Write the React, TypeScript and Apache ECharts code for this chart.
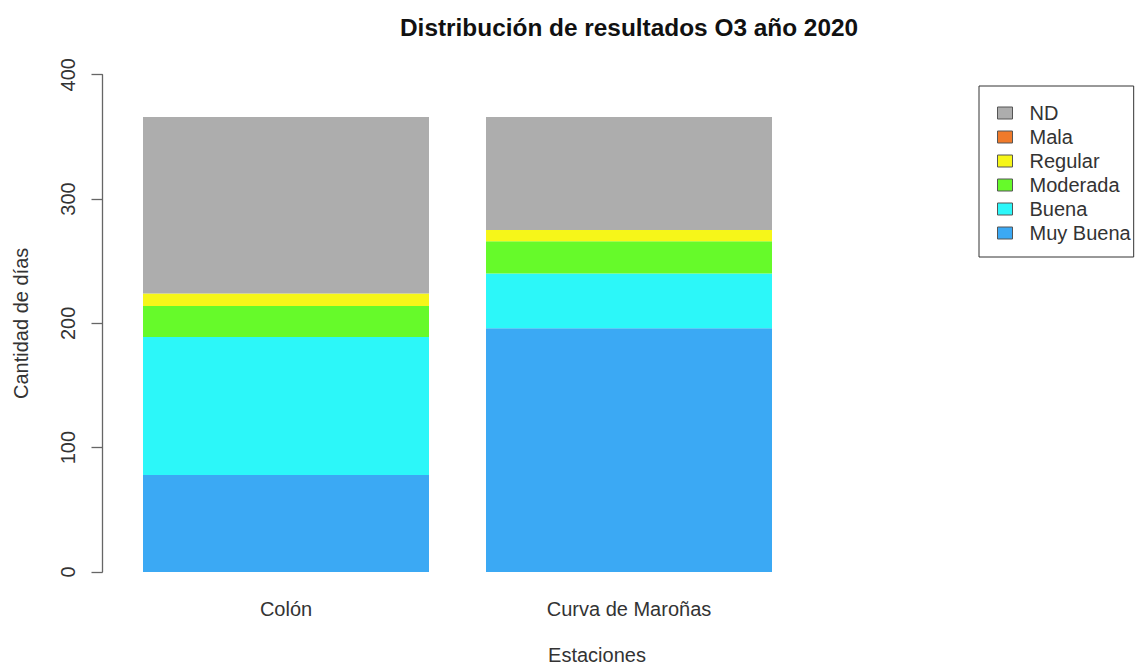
import React, { useEffect, useRef } from "react";
import * as echarts from "echarts";

const stations = ["Colón", "Curva de Maroñas"];
const categoriesBottomUp = ["Muy Buena", "Buena", "Moderada", "Regular", "Mala", "ND"];
const legendOrder = ["ND", "Mala", "Regular", "Moderada", "Buena", "Muy Buena"];
const muyBuena = [78, 196];
const buena = [111, 44];
const moderada = [25, 26];
const regular = [10, 9];
const mala = [0, 0];
const nd = [142, 91];
const yTicks = [0, 100, 200, 300, 400];

const colors: Record<string, string> = {
  "Muy Buena": "#3BA9F4",
  Buena: "#2CF7F9",
  Moderada: "#66FA2A",
  Regular: "#F6F619",
  Mala: "#F07A2A",
  ND: "#ADADAD",
};

const valuesBySeries: Record<string, number[]> = {
  "Muy Buena": muyBuena,
  Buena: buena,
  Moderada: moderada,
  Regular: regular,
  Mala: mala,
  ND: nd,
};

const FONT = "'Liberation Sans', Arial, Helvetica, sans-serif";

export default function App() {
  const ref = useRef<HTMLDivElement>(null);
  useEffect(() => {
    document.body.style.margin = "0";
    const chart = echarts.init(ref.current!, null, { renderer: "svg" });
    const gridLeft = 114.5;
    const gridTop = 74.7;
    const gridHeight = 497.3;
    chart.setOption({
      animation: false,
      backgroundColor: "#ffffff",
      textStyle: { fontFamily: FONT },
      title: {
        text: "Distribución de resultados O3 año 2020",
        left: 400,
        top: 15,
        padding: 0,
        textStyle: { fontFamily: FONT, fontSize: 24.4, fontWeight: "bold", color: "#111" },
      },
      graphic: [
        {
          type: "text",
          x: 597,
          y: 655,
          style: {
            text: "Estaciones",
            fontFamily: FONT,
            fontSize: 20,
            fill: "#333",
            textAlign: "center",
            textVerticalAlign: "middle",
          },
        },
      ],
      legend: {
        orient: "vertical",
        left: 979,
        top: 86,
        data: legendOrder,
        icon: "rect",
        itemWidth: 15,
        itemHeight: 12,
        itemGap: 4,
        padding: [17, 3, 14, 18],
        borderColor: "#333",
        borderWidth: 1,
        borderRadius: 0,
        itemStyle: { borderColor: "#555", borderWidth: 1 },
        textStyle: {
          fontFamily: FONT,
          fontSize: 20,
          lineHeight: 20,
          color: "#333",
          padding: [0, 0, 0, 12],
        },
      },
      grid: {
        left: gridLeft,
        top: gridTop,
        width: 686,
        height: gridHeight,
        containLabel: false,
      },
      xAxis: {
        type: "category",
        data: stations,
        axisLine: { show: false },
        axisTick: { show: false },
        axisLabel: { fontFamily: FONT, fontSize: 20, color: "#333", margin: 27 },
      },
      yAxis: {
        type: "value",
        min: yTicks[0],
        max: yTicks[yTicks.length - 1],
        interval: 100,
        offset: 12,
        name: "Cantidad de días",
        nameLocation: "middle",
        nameGap: 72,
        nameTextStyle: { fontFamily: FONT, fontSize: 20, color: "#333" },
        axisLine: { show: true, lineStyle: { color: "#666", width: 1.3 } },
        axisTick: { show: true, length: 11, lineStyle: { color: "#666", width: 1.3 } },
        splitLine: { show: false },
        axisLabel: { rotate: 90, fontFamily: FONT, fontSize: 20, color: "#333", margin: 25 },
      },
      series: categoriesBottomUp.map((name) => ({
        name,
        type: "bar",
        stack: "total",
        barWidth: 286,
        data: valuesBySeries[name],
        itemStyle: { color: colors[name] },
      })),
    });
    return () => chart.dispose();
  }, []);
  return <div ref={ref} style={{ width: 1137, height: 666 }} />;
}
